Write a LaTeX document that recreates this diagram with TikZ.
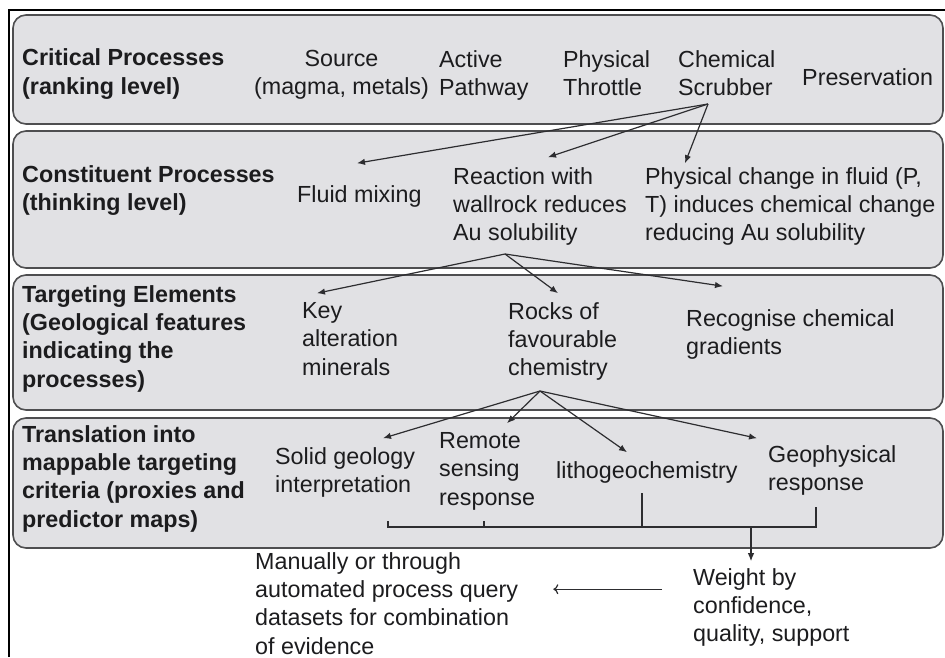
\documentclass[tikz,border=0pt]{standalone}
\usepackage{fontspec}
\setmainfont{Liberation Sans}
\usetikzlibrary{arrows.meta}
\definecolor{panelfill}{RGB}{225,225,228}
\definecolor{panelline}{RGB}{78,78,80}
\definecolor{ink}{RGB}{28,28,30}
\definecolor{linkc}{RGB}{45,45,48}
\begin{document}
\begin{tikzpicture}[x=1pt,y=-1pt,
  txt/.style={font=\fontsize{23.3}{28.3}\selectfont, text=ink, align=left,
    anchor=north west, inner sep=0pt, execute at begin node=\strut},
  head/.style={txt, font=\fontsize{23.3}{28.3}\selectfont\bfseries},
  panel/.style={draw=panelline, fill=panelfill, line width=1.6pt, rounded corners=13pt},
  frameline/.style={draw=black, line width=1.8pt},
  arr/.style={draw=linkc, line width=1.2pt, -{Latex[length=8pt,width=6.5pt]}},
  openarr/.style={draw=linkc, line width=1.2pt, -{To[length=5pt,width=10pt]}},
  brk/.style={draw=linkc, line width=1.2pt}]
\useasboundingbox (0,0) rectangle (945,657);
% outer frame
\draw[frameline] (9,657) -- (9,10) -- (945,10);
% panels
\draw[panel] (13,15) rectangle (943,124);
\draw[panel] (13,131) rectangle (943,268);
\draw[panel] (13,275) rectangle (943,410);
\draw[panel] (13,418) rectangle (943,548);
% row 1
\node[head] (h1) at (22,48.7) {Critical Processes\\(ranking level)};
\node[txt, align=center, anchor=north] (source) at (341.5,50.2) {Source\\(magma, metals)};
\node[txt] (active) at (439,50.2) {Active\\Pathway};
\node[txt] (phys) at (563,50.2) {Physical\\Throttle};
\node[txt] (chem) at (678,50.2) {Chemical\\Scrubber};
\node[txt] (pres) at (802,65.2) {Preservation};
% row 2
\node[head] (h2) at (22,165.2) {Constituent Processes\\(thinking level)};
\node[txt] (fluid) at (297,182.2) {Fluid mixing};
\node[txt] (react) at (453,167.2) {Reaction with\\wallrock reduces\\Au solubility};
\node[txt] (physc) at (645,167.2) {Physical change in fluid (P,\\T) induces chemical change\\reducing Au solubility};
% row 3
\node[head] (h3) at (22,285.2) {Targeting Elements\\(Geological features\\indicating the\\processes)};
\node[txt] (key) at (302,302.2) {Key\\alteration\\minerals};
\node[txt] (rocks) at (508,302.2) {Rocks of\\favourable\\chemistry};
\node[txt] (recog) at (686,309.2) {Recognise chemical\\gradients};
% row 4
\node[head] (h4) at (22,425.2) {Translation into\\mappable targeting\\criteria (proxies and\\predictor maps)};
\node[txt] (solid) at (275,447.2) {Solid geology\\interpretation};
\node[txt] (remote) at (439,432.2) {Remote\\sensing\\response};
\node[txt] (litho) at (556,458.2) {lithogeochemistry};
\node[txt] (geo) at (768,445.2) {Geophysical\\response};
% bottom
\node[txt] (manual) at (255,552.2) {Manually or through\\automated process query\\datasets for combination\\of evidence};
\node[txt] (weight) at (693,568.2) {Weight by\\confidence,\\quality, support};
% arrows row 1 -> 2
\coordinate (c1) at (708,104);
\draw[arr] (c1) -- ([xshift=60pt,yshift=19pt]fluid.north west);
\draw[arr] (c1) -- ([xshift=95pt,yshift=10pt]react.north west);
\draw[arr] (c1) -- ([xshift=40pt,yshift=4pt]physc.north west);
% arrows row 2 -> 3
\coordinate (c2) at (505,254);
\draw[arr] (c2) -- ([xshift=15pt,yshift=9pt]key.north west);
\draw[arr] (c2) -- ([xshift=50pt,yshift=9pt]rocks.north west);
\draw[arr] (c2) -- ([xshift=37pt,yshift=23pt]recog.north west);
% arrows row 3 -> 4
\coordinate (c3) at (540,391);
\draw[arr] (c3) -- ([xshift=108pt,yshift=9pt]solid.north west);
\draw[arr] (c3) -- ([xshift=68pt,yshift=9pt]remote.north west);
\draw[arr] (c3) -- ([xshift=71pt,yshift=6pt]litho.north west);
\draw[arr] (c3) -- ([xshift=-11pt,yshift=7pt]geo.north west);
% bracket
\coordinate (bl) at (388,527);
\coordinate (br) at (816,527);
\draw[brk] (388,521) -- (bl) -- (br) -- (816,507);
\draw[brk] (484,521) -- (484,527);
\draw[brk] (642,493) -- (642,527);
\coordinate (bd) at (751,527);
\draw[arr] (bd) -- ([xshift=58pt,yshift=7pt]weight.north west);
% weight -> manual
\coordinate (la) at ([xshift=-31pt,yshift=-21pt]weight.north west);
\draw[openarr] (la) -- ([xshift=35pt]manual.east |- la);
\end{tikzpicture}
\end{document}
